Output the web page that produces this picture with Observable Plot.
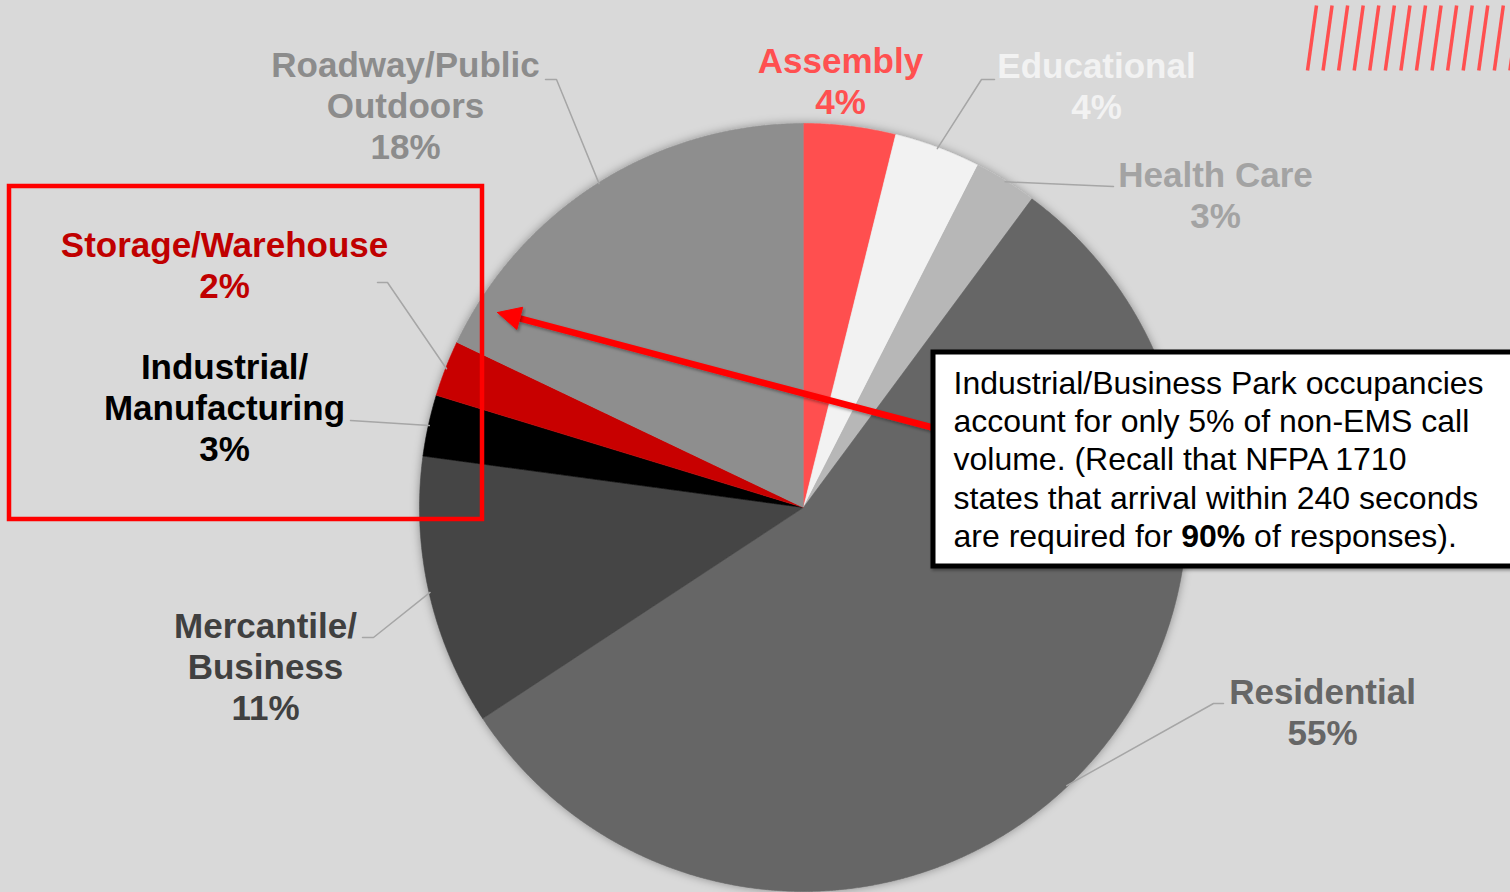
<!DOCTYPE html>
<html><head><meta charset="utf-8">
<script src="https://cdn.jsdelivr.net/npm/d3@7"></script>
<script src="https://cdn.jsdelivr.net/npm/@observablehq/plot@0.6"></script>
<style>
html,body{margin:0;padding:0;background:#d9d9d9;overflow:hidden}
#chart{width:1510px;height:892px}
</style></head><body><div id="chart"></div>
<script>
// ---- data ----
const categories = ["Assembly","Educational","Health Care","Residential","Mercantile/Business","Industrial/Manufacturing","Storage/Warehouse","Roadway/Public Outdoors"];
const shares = [3.86, 3.64, 2.64, 55.6, 11.4, 2.58, 2.36, 17.92];
const percentLabels = ["4%","4%","3%","55%","11%","3%","2%","18%"];
const labelNames = ["Assembly","Educational","Health Care","Residential","Mercantile/\nBusiness","Industrial/\nManufacturing","Storage/Warehouse","Roadway/Public\nOutdoors"];
const sliceColors = ["#ff5050","#f2f2f2","#b7b7b7","#666666","#444444","#000000","#c80000","#8e8e8e"];
const labelColors = ["#ff5050","#f2f2f2","#a3a3a3","#666666","#404040","#000000","#c00000","#8c8c8c"];
const noteLines = ["Industrial/Business Park occupancies","account for only 5% of non-EMS call","volume. (Recall that NFPA 1710","states that arrival within 240 seconds","are required for 90% of responses)."];

// ---- layout ----
const W = 1510, H = 892, CX = 803, CY = 507, R = 384;
const labelPos = [[840,80],[1096,85],[1215,194],[1322,711],[265,665],[224,406.5],[224,264],[405,104.5]];
const leaderEnds = [null, [[981,79],[994,79]], [[1113,186]], [[1213,703],[1223,703]], [[373,637],[362,637]], [[350,420]], [[387,282],[377,282]], [[556,79],[545,79]]];
const arrowFrom = [932, 427], arrowTo = [497, 312];

// ---- derived geometry ----
const arcs = d3.pie().sort(null).value(d => d)(shares);
const slicePts = [];
arcs.forEach((p, i) => {
  slicePts.push({i, x: CX, y: CY});
  const n = Math.max(2, Math.ceil((p.endAngle - p.startAngle) / 0.004));
  for (let k = 0; k <= n; k++) {
    const a = p.startAngle + (p.endAngle - p.startAngle) * k / n;
    slicePts.push({i, x: CX + R * Math.sin(a), y: CY - R * Math.cos(a)});
  }
});
const leaderPts = [];
arcs.forEach((p, i) => {
  if (!leaderEnds[i]) return;
  const a = (p.startAngle + p.endAngle) / 2;
  leaderPts.push({i, x: CX + (R - 1) * Math.sin(a), y: CY - (R - 1) * Math.cos(a)});
  leaderEnds[i].forEach(([x, y]) => leaderPts.push({i, x, y}));
});
const labels = categories.map((c, i) => ({
  text: labelNames[i] + "\n" + percentLabels[i],
  x: labelPos[i][0], y: labelPos[i][1], color: labelColors[i]
}));
// arrow: shaft + filled triangular head
const dx = arrowFrom[0] - arrowTo[0], dy = arrowFrom[1] - arrowTo[1], L = Math.hypot(dx, dy);
const ux = dx / L, uy = dy / L, headLen = 23, headHalf = 11.5;
const bx = arrowTo[0] + ux * headLen, by = arrowTo[1] + uy * headLen;
const shaft = [{x1: arrowFrom[0], y1: arrowFrom[1], x2: bx, y2: by}];
const head = [
  {x: arrowTo[0], y: arrowTo[1]},
  {x: bx - uy * headHalf, y: by + ux * headHalf},
  {x: bx + uy * headHalf, y: by - ux * headHalf},
  {x: arrowTo[0], y: arrowTo[1]}
];
const hatch = d3.range(14).map(i => ({x1: 1307 + 15.57 * i, y1: 70, x2: 1316 + 15.57 * i, y2: 5}));

const plot = Plot.plot({
  width: W, height: H, margin: 0,
  x: {domain: [0, W], range: [0, W], axis: null},
  y: {domain: [0, H], range: [0, H], axis: null},
  color: {type: "identity"},
  style: {background: "#d9d9d9", fontFamily: "'Liberation Sans', Arial, sans-serif", overflow: "visible"},
  marks: [
    Plot.line(slicePts, {x: "x", y: "y", z: "i", fill: d => sliceColors[d.i], stroke: d => sliceColors[d.i], strokeWidth: 0.6}),   // 0
    Plot.line(leaderPts, {x: "x", y: "y", z: "i", stroke: "#a6a6a6", strokeWidth: 1.5}),                                         // 1
    Plot.text(labels, {x: "x", y: "y", text: "text", fill: "color", fontSize: 35, fontWeight: "bold", lineHeight: 1.17, lineAnchor: "middle", textAnchor: "middle"}), // 2
    Plot.rect([{x1: 9, x2: 482, y1: 186, y2: 519}], {x1: "x1", x2: "x2", y1: "y1", y2: "y2", fill: "none", stroke: "#ff0000", strokeWidth: 4.5}), // 3
    Plot.link(shaft, {x1: "x1", y1: "y1", x2: "x2", y2: "y2", stroke: "#ff0000", strokeWidth: 6.5}),                              // 4
    Plot.line(head, {x: "x", y: "y", fill: "#ff0000", stroke: "#ff0000", strokeWidth: 1}),                                         // 5
    Plot.rect([{x1: 933, x2: 1530, y1: 352, y2: 566}], {x1: "x1", x2: "x2", y1: "y1", y2: "y2", fill: "#ffffff", stroke: "#000000", strokeWidth: 5}), // 6
    Plot.text([noteLines.join("\n")], {x: 953, y: 457.5, text: d => d, fill: "#000000", fontSize: 32, lineHeight: 1.2, lineAnchor: "middle", textAnchor: "start"}), // 7
    Plot.link(hatch, {x1: "x1", y1: "y1", x2: "x2", y2: "y2", stroke: "#ff5050", strokeWidth: 3.5})                               // 8
  ]
});

const svg = d3.select(plot);
const groups = svg.selectAll(":scope > g").nodes();
// soft shadow around the pie
const defs = svg.insert("defs", ":first-child");
const f = defs.append("filter").attr("id", "pieShadow").attr("x", "-10%").attr("y", "-10%").attr("width", "120%").attr("height", "120%");
f.append("feDropShadow").attr("dx", 0).attr("dy", 0).attr("stdDeviation", 5).attr("flood-color", "#000").attr("flood-opacity", 0.35);
const f2 = defs.append("filter").attr("id", "boxShadow").attr("x", "-10%").attr("y", "-10%").attr("width", "120%").attr("height", "130%");
f2.append("feDropShadow").attr("dx", 1.5).attr("dy", 2).attr("stdDeviation", 1.5).attr("flood-color", "#000").attr("flood-opacity", 0.35);
if (groups[0]) d3.select(groups[0]).attr("filter", "url(#pieShadow)");
if (groups[4]) d3.select(groups[4]).attr("filter", "url(#boxShadow)");
if (groups[5]) d3.select(groups[5]).attr("filter", "url(#boxShadow)");
if (groups[6]) d3.select(groups[6]).attr("filter", "url(#boxShadow)");

// bold "90%"
if (groups[7]) d3.select(groups[7]).selectAll("tspan").each(function() {
  const t = this.textContent;
  const k = t.indexOf("90%");
  if (k < 0) return;
  const el = d3.select(this);
  el.text(null);
  el.append("tspan").text(t.slice(0, k));
  el.append("tspan").attr("font-weight", "bold").text("90%");
  el.append("tspan").text(t.slice(k + 3));
});

document.getElementById("chart").appendChild(plot);
</script>
</body></html>
